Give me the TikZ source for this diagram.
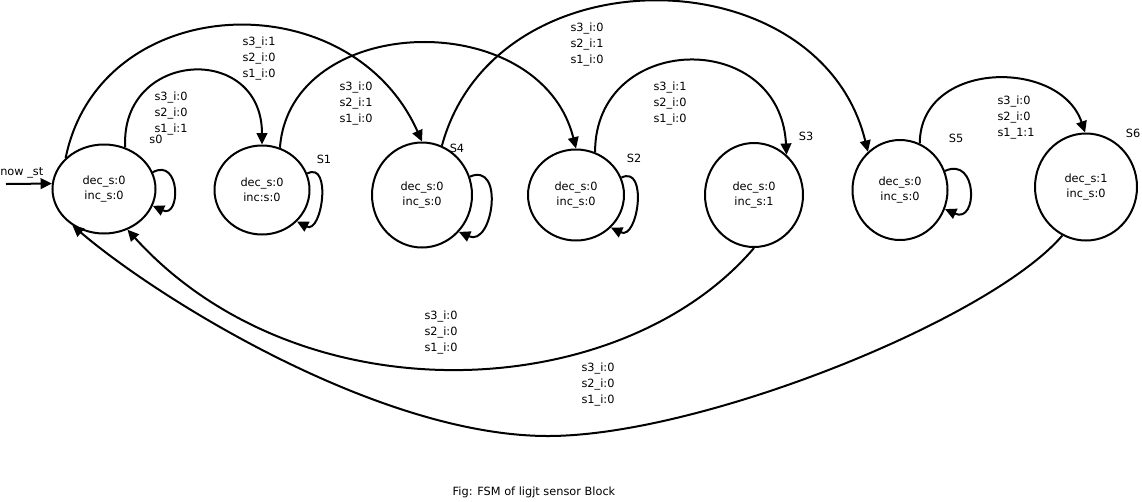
\documentclass[tikz,border=0pt]{standalone}
\usepackage{fontspec}
\setmainfont{DejaVu Sans}
\usetikzlibrary{arrows.meta,shapes.geometric}
\begin{document}
\begin{tikzpicture}[x=0.75pt,y=-0.75pt,
  fsmstate/.style={draw, ellipse, inner sep=0pt, align=center, line width=1.5pt,
    font=\fontsize{8.5}{11.25}\selectfont},
  lbl/.style={align=left, inner sep=0pt, font=\fontsize{8.5}{12}\selectfont},
  tag/.style={inner sep=0pt, font=\fontsize{8.5}{10}\selectfont},
  arr/.style={-{Triangle[length=8.5pt,width=8pt]}, line width=1.5pt}]
\useasboundingbox (0,0) rectangle (1142,501);
% states
\node[fsmstate, minimum width=77.25pt, minimum height=66.75pt] (s0) at (104,189) {dec\_s:0\\inc\_s:0};
\node[fsmstate, minimum width=71.25pt, minimum height=66.75pt] (s1) at (262,190) {dec\_s:0\\inc:s:0};
\node[fsmstate, minimum width=75pt, minimum height=78.75pt] (s4) at (422,195) {dec\_s:0\\inc\_s:0};
\node[fsmstate, minimum width=72pt, minimum height=68.25pt] (s2) at (576,195) {dec\_s:0\\inc\_s:0};
\node[fsmstate, minimum width=73.5pt, minimum height=78pt] (s3) at (754,195) {dec\_s:0\\inc\_s:1};
\node[fsmstate, minimum width=71.25pt, minimum height=75pt] (s5) at (900,190) {dec\_s:0\\inc\_s:0};
\node[fsmstate, minimum width=76.5pt, minimum height=80.25pt] (s6) at (1086,187) {dec\_s:1\\inc\_s:0};
% state tags
\node[tag] (t0) at (156,139) {s0};
\node[tag] (t1) at (324,159) {S1};
\node[tag] (t4) at (457,148) {S4};
\node[tag] (t2) at (634,158) {S2};
\node[tag] (t3) at (806,136) {S3};
\node[tag] (t5) at (956,138) {S5};
\node[tag] (t6) at (1133,133) {S6};
% initial
\coordinate (init) at (6,184);
\node[tag, anchor=west] (nowst) at (0,173) {now \_st};
\draw[arr] (init) -- (s0.174);
% transitions
\draw[arr] (s0.63) .. controls (120,50) and (262,42) .. (s1.90);
\draw[arr] (s0.141) .. controls (100,-10) and (350,-20) .. (s4.90);
\draw[arr] (s1.67) .. controls (290,12) and (540,5) .. (s2.90);
\draw[arr] (s4.68) .. controls (495,-50) and (820,-45) .. (s5.130);
\draw[arr] (s2.66) .. controls (595,32) and (780,28) .. (s3.51);
\draw[arr] (s5.67) .. controls (920,60) and (1060,58) .. (s6.91);
\draw[arr] (s3.-90) .. controls (620,405) and (300,420) .. (s0.-60.5);
\coordinate (m60) at (548,436);
\draw[arr] (s6.244) .. controls (990,320) and (700,436) .. (m60) .. controls (380,436) and (160,300) .. (s0.229);
% self loops
\draw[arr] (s0.19) .. controls +(28,-15) and +(28,13) .. (s0.-19);
\draw[arr] (s1.20) .. controls +(25,-13) and +(25,13) .. (s1.-42);
\draw[arr] (s4.21) .. controls +(35,-15) and +(34,15) .. (s4.-45);
\draw[arr] (s2.21) .. controls +(27,-13) and +(27,13) .. (s2.-43);
\draw[arr] (s5.23) .. controls +(33,-15) and +(33,15) .. (s5.-23);
% labels
\node[lbl] (l01) at (171,114) {s3\_i:0\\s2\_i:0\\s1\_i:1};
\node[lbl] (l04) at (259,59) {s3\_i:1\\s2\_i:0\\s1\_i:0};
\node[lbl] (l12) at (356,104) {s3\_i:0\\s2\_i:1\\s1\_i:0};
\node[lbl] (l45) at (587,45) {s3\_i:0\\s2\_i:1\\s1\_i:0};
\node[lbl] (l23) at (670,104) {s3\_i:1\\s2\_i:0\\s1\_i:0};
\node[lbl] (l56) at (1016,118) {s3\_i:0\\s2\_i:0\\s1\_1:1};
\node[lbl] (l30) at (441,333) {s3\_i:0\\s2\_i:0\\s1\_i:0};
\node[lbl] (l60) at (598,385) {s3\_i:0\\s2\_i:0\\s1\_i:0};
% caption
\node[tag] (cap) at (534,492) {Fig: FSM of ligjt sensor Block};
\end{tikzpicture}
\end{document}
